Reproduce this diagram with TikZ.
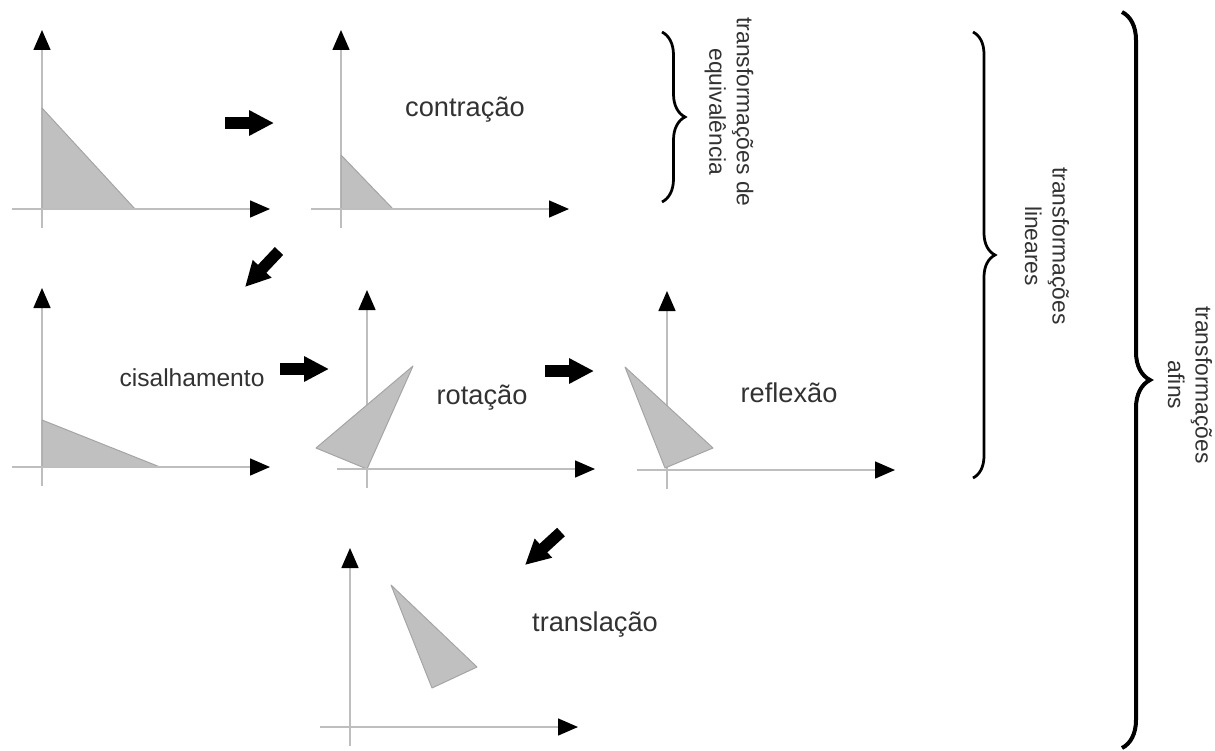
\documentclass[tikz,border=0pt]{standalone}
\usepackage{fontspec}
\setmainfont{Liberation Sans}
\usetikzlibrary{arrows.meta,calc,decorations.pathreplacing}
\definecolor{AxisGray}{RGB}{190,190,190}
\definecolor{ShapeFill}{RGB}{192,192,192}
\definecolor{ShapeEdge}{RGB}{165,165,165}
\definecolor{LabelGray}{RGB}{50,50,50}

\begin{document}
\begin{tikzpicture}[x=0.02cm, y=-0.02cm,
  every node/.style={font=\fontsize{15.5}{18}\selectfont, text=LabelGray, align=center, inner sep=0pt},
  eixo/.style={draw=AxisGray, line width=0.3mm, -{Triangle[length=4mm, width=3.4mm, color=black]}},
  figura/.style={fill=ShapeFill, draw=ShapeEdge, line width=0.2mm, line join=round},
  seta/.style={line width=2.3mm, black, -{Triangle[length=5mm, width=4.8mm]}},
  chave/.style={decorate, line width=0.55mm, black},
  grupo/.style={rotate=-90, font=\fontsize{13}{15.6}\selectfont}]
  \useasboundingbox (0,0) rectangle (1215,751);

  % eixos de cada quadro
  \foreach \ox/\oy [count=\i] in {42/209, 341/209, 42/467, 367/469, 667/470, 350/727} {
    \coordinate (o\i) at (\ox,\oy);
    \draw[eixo] ($(o\i)+(-30,0)$) -- ($(o\i)+(228,0)$);
    \draw[eixo] ($(o\i)+(0,19)$) -- ($(o\i)+(0,-179)$);
  }

  % figuras
  \fill[figura] (42,108) -- (42,209) -- (135,209) -- cycle;
  \fill[figura] (341,155) -- (341,209) -- (393,209) -- cycle;
  \fill[figura] (42,420) -- (42,467) -- (160,467) -- cycle;
  \fill[figura] (413,366) -- (316,448) -- (367,469) -- cycle;
  \fill[figura] (625,367) -- (665,468) -- (713,448) -- cycle;
  \fill[figura] (391,585) -- (477,667) -- (432,688) -- cycle;
  \foreach \i in {1,...,6} \draw[AxisGray, line width=0.3mm] ($(o\i)+(-30,0)$) -- ($(o\i)+(200,0)$);

  \node (contr) at (465,110) {contração};
  \node[font=\fontsize{14}{17}\selectfont] (cisal) at (192,378) {cisalhamento};
  \node (rot) at (482,398) {rotação};
  \node (refl) at (789,393) {reflexão};
  \node (transl) at (595,625) {translação};

  % setas entre quadros
  \coordinate (s1a) at (225,123); \coordinate (s1b) at (274,123);
  \coordinate (s2a) at (279,251); \coordinate (s2b) at (245,287);
  \coordinate (s3a) at (280,369); \coordinate (s3b) at (329,369);
  \coordinate (s4a) at (545,371); \coordinate (s4b) at (594,371);
  \coordinate (s5a) at (561,532); \coordinate (s5b) at (525,565);
  \foreach \s in {1,...,5} \draw[seta] (s\s a) -- (s\s b);

  % chaves
  \coordinate (eqtop) at (662,32);  \coordinate (eqbot) at (662,202);
  \coordinate (lintop) at (973,32); \coordinate (linbot) at (973,478);
  \coordinate (aftop) at (1122,12); \coordinate (afbot) at (1122,748);
  \draw[chave, decoration={brace, amplitude=4.6mm}] (eqtop) -- (eqbot);
  \draw[chave, decoration={brace, amplitude=4.4mm}] (lintop) -- (linbot);
  \draw[chave, line width=0.8mm, decoration={brace, amplitude=5.6mm}] (aftop) -- (afbot);

  \node[grupo] (equiv) at (729,112) {transformações de\\equivalência};
  \node[grupo] (lin) at (1047,246) {transformações\\lineares};
  \node[grupo] (afim) at (1190,385) {transformações\\afins};
\end{tikzpicture}
\end{document}
